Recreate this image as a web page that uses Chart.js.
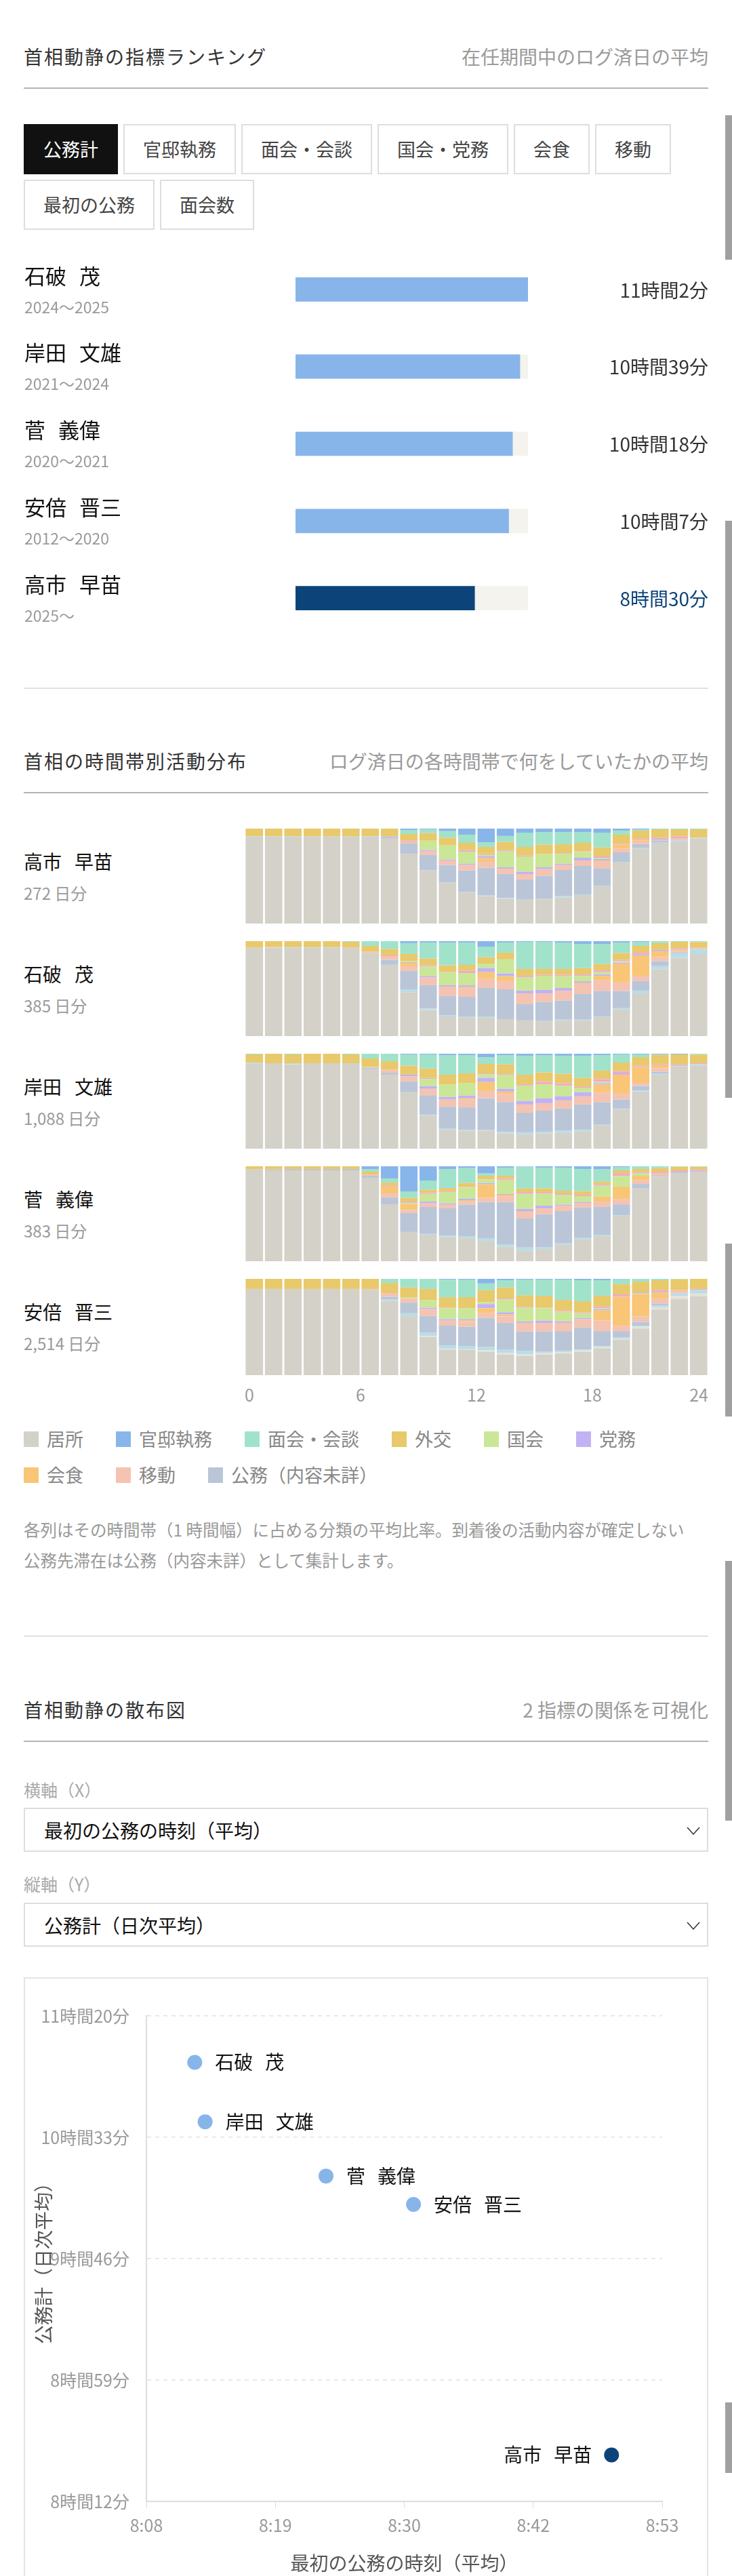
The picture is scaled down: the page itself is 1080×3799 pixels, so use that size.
<!DOCTYPE html>
<html lang="ja">
<head>
<meta charset="utf-8">
<title>首相動静</title>
<script src="https://cdn.jsdelivr.net/npm/chart.js@4.4.1/dist/chart.umd.min.js"></script>
<style>
  html, body { margin: 0; background: #fff; overflow: hidden; }
  body { width: 1080px; position: relative; font-family: "Noto Sans CJK JP", "Noto Sans", sans-serif; color: #222; }
  .page { padding: 37px 35px 0; }
  canvas { display: block; }
  .sec-head { height: 94px; box-sizing: border-box; display: flex; justify-content: space-between; align-items: center; border-bottom: 2px solid #b4b4b4; }
  .sec-head h2 { margin: 0; font-size: 28px; font-weight: 400; letter-spacing: 2px; line-height: 36px; color: #333; }
  .sec-head span { font-size: 28px; line-height: 36px; color: #9a9a9a; }
  .sep { border-top: 2px solid #e3e1da; }
  .tabs { display: flex; flex-wrap: wrap; gap: 8px; margin-top: 52px; }
  .tab { height: 74px; box-sizing: border-box; border: 2px solid #dedede; padding: 0 27px; font-size: 27px; line-height: 70px; color: #444; background: #fff; }
  .tab.active { background: #111; border-color: #111; color: #fff; }
  .act-row { display: flex; align-items: flex-start; margin-bottom: 26px; }
  .act-row:last-child { margin-bottom: 0; }
  .act-name { width: 326px; }
  .act-name .pm { margin-top: 30px; font-size: 28px; line-height: 36px; color: #111; white-space: nowrap; }
  .act-name .pm .gap { display: inline-block; width: 19px; }
  .act-name .days { margin-top: 13px; font-size: 24px; line-height: 32px; color: #9a9a9a; }
  .legend { display: flex; flex-wrap: wrap; column-gap: 48px; row-gap: 17px; margin-top: 18px; }
  .legend-item { display: flex; align-items: center; font-size: 27px; line-height: 36px; color: #888; }
  .legend-item i { display: inline-block; width: 22px; height: 23px; margin-right: 12px; }
  .note { margin: 39.5px 0 0; font-size: 24.5px; line-height: 45px; color: #999; }
  .field-label { font-size: 25px; line-height: 34px; color: #aaa; }
  .select { position: relative; height: 65px; box-sizing: border-box; border: 2px solid #dddddd; padding-left: 28px; display: flex; align-items: center; font-size: 28px; color: #111; }
  .select svg { position: absolute; right: 10px; top: 26px; }
  .scatter-box { margin-top: 45px; border: 2px solid #e6e4dd; }
  .thumb { position: absolute; left: 1070px; width: 10px; background: #a0a0a0; }
</style>
</head>
<body>
<div class="page">
  <div class="sec-head"><h2>首相動静の指標ランキング</h2><span>在任期間中のログ済日の平均</span></div>
  <div class="tabs">
    <div class="tab active">公務計</div>
    <div class="tab">官邸執務</div>
    <div class="tab">面会・会談</div>
    <div class="tab">国会・党務</div>
    <div class="tab">会食</div>
    <div class="tab">移動</div>
    <div class="tab">最初の公務</div>
    <div class="tab">面会数</div>
  </div>
  <canvas id="rankChart" width="1010" height="569" style="margin-top:31px"></canvas>

  <div class="sep" style="margin-top:75px"></div>
  <div class="sec-head" style="margin-top:60px"><h2>首相の時間帯別活動分布</h2><span>ログ済日の各時間帯で何をしていたかの平均</span></div>
  <div id="activityRows" style="margin-top:52px"></div>
  <div class="legend" id="legend"></div>
  <p class="note">各列はその時間帯（1 時間幅）に占める分類の平均比率。到着後の活動内容が確定しない<br>公務先滞在は公務（内容未詳）として集計します。</p>

  <div class="sep" style="margin-top:89.5px"></div>
  <div class="sec-head" style="margin-top:61px"><h2>首相動静の散布図</h2><span>2 指標の関係を可視化</span></div>
  <div class="field-label" style="margin-top:53px">横軸（X）</div>
  <div class="select" style="margin-top:10px">最初の公務の時刻（平均）<svg width="20" height="12"><polyline points="1,1 10,11 19,1" fill="none" stroke="#333" stroke-width="1.5"/></svg></div>
  <div class="field-label" style="margin-top:30px">縦軸（Y）</div>
  <div class="select" style="margin-top:11px">公務計（日次平均）<svg width="20" height="12"><polyline points="1,1 10,11 19,1" fill="none" stroke="#333" stroke-width="1.5"/></svg></div>
  <div class="scatter-box"><canvas id="scatterChart" width="1006" height="885"></canvas></div>
</div>

<div class="thumb" style="top:170px;height:213px"></div>
<div class="thumb" style="top:768px;height:851px"></div>
<div class="thumb" style="top:1834px;height:255px"></div>
<div class="thumb" style="top:2302px;height:383px"></div>
<div class="thumb" style="top:3543px;height:104px"></div>

<script>
// --- DATA ---
const rankNames = ['石破 茂', '岸田 文雄', '菅 義偉', '安倍 晋三', '高市 早苗'];
const rankYears = ['2024〜2025', '2021〜2024', '2020〜2021', '2012〜2020', '2025〜'];
const rankMinutes = [662, 639, 618, 607, 510];           // 公務計（日次平均, 分）
const firstDutyMinutes = [492.2, 493.1, 503.6, 511.2, 528.4]; // 最初の公務の時刻（0時からの分）
const highlightIndex = 4;

const hours = [0, 1, 2, 3, 4, 5, 6, 7, 8, 9, 10, 11, 12, 13, 14, 15, 16, 17, 18, 19, 20, 21, 22, 23];
const hourTicks = [0, 6, 12, 18, 24];

// stack order, bottom to top
const categoryLabels = ['居所', 'その他', '待機', '公務（内容未詳）', '移動', '会食', '党務', '国会', '私的用務', '外交', '面会・会談', '官邸執務'];
const categoryColors = ['#d4d1c9', '#e4e1d9', '#b9dde7', '#bac6d7', '#f5c3b2', '#f8c676', '#c2b2f4', '#c9e797', '#f0abc9', '#e8c96b', '#a1e2cb', '#88b6ea'];
const legendLabels = ['居所', '官邸執務', '面会・会談', '外交', '国会', '党務', '会食', '移動', '公務（内容未詳）'];

const activityNames = ['高市 早苗', '石破 茂', '岸田 文雄', '菅 義偉', '安倍 晋三'];
const activityDays = [272, 385, 1088, 383, 2514];

// percent of each hour, one row per category (same order as categoryLabels)
const takaichiShares = [
  [91.5, 92, 92, 91.7, 91.7, 91.7, 91.5, 90, 73.6, 56, 43.1, 33.1, 28.8, 26, 25, 26, 27.4, 30, 39.3, 64.3, 78.7, 85, 86.8, 89.8],
  [0, 0, 0, 0, 0, 0, 0, 0, 0, 0, 0, 0, 0, 0, 0, 0, 0, 0, 0, 0, 0, 0, 0, 0],
  [0.5, 0, 0, 0, 0, 0, 0.5, 0, 0, 0, 0, 0, 0.7, 0.7, 0.7, 0, 1.4, 0.7, 0.7, 0.7, 0.7, 0.7, 0.5, 0.7],
  [0, 0, 0, 0, 0, 0, 0, 1.5, 10.7, 16.2, 18.6, 22.9, 29.3, 25.5, 20.7, 24.3, 27.6, 30, 17.9, 10, 4.3, 1.9, 1, 0],
  [0, 0, 0, 0, 0, 0, 0, 0, 2.1, 4.3, 4.8, 5.7, 6.2, 5.7, 5.7, 7.1, 5.2, 5.7, 7.1, 3.8, 1.9, 1, 1.7, 0],
  [0, 0, 0, 0, 0, 0, 0, 0, 0, 0, 0, 0, 3.8, 0, 0, 0, 0, 0, 1, 4.3, 1.9, 0, 0, 0],
  [0, 0, 0, 0, 0, 0, 0, 0, 0, 1, 1, 1.4, 1.9, 1.4, 2.4, 1.9, 1.4, 2.9, 1.9, 0, 0, 0.7, 0, 0],
  [0, 0, 0, 0, 0, 0, 0, 0, 0, 9.8, 14.8, 12.6, 1.4, 17.1, 16.2, 13.8, 10.5, 6, 1.4, 0, 0, 0, 0, 0],
  [0, 0, 0, 0, 0, 0, 0, 0.5, 1, 0, 0, 1.7, 1, 1, 1, 0, 0.7, 0.7, 1.4, 1, 1.4, 1, 1.7, 0],
  [8, 8, 8, 8.3, 8.3, 8.3, 8, 8, 6.9, 7.9, 8.1, 7.6, 7.6, 8.6, 9, 10, 9.3, 9, 9.5, 9.5, 9, 9, 7.6, 8.8],
  [0, 0, 0, 0, 0, 0, 0, 0, 4.3, 4, 6.9, 8.6, 5, 6.2, 15, 13.3, 12.9, 11.4, 15.5, 4.3, 1.4, 0.7, 0.7, 0.7],
  [0, 0, 0, 0, 0, 0, 0, 0, 1.4, 1, 2.9, 6.4, 14.3, 7.9, 4.3, 3.6, 3.6, 3.6, 4.3, 2.1, 0.7, 0, 0, 0]
];
const ishibaShares = [
  [93.1, 93.3, 93.1, 93.1, 93.1, 93.1, 86.7, 75.1, 46, 27.5, 20.7, 19.2, 19.3, 17.9, 16.5, 15.7, 16.3, 16.3, 20.1, 28, 45, 70.4, 82.4, 86.4],
  [0, 0, 0, 0, 0, 0, 0, 0, 0, 0, 0, 0, 0, 0, 0, 0, 0, 0, 0, 0, 0, 0, 0, 0],
  [0, 0, 0.5, 0.5, 0.5, 0, 0, 0, 3.3, 1.4, 1, 1, 1.4, 0, 0, 0.7, 1, 1, 0.7, 1.4, 2.9, 3.3, 4.8, 5.2],
  [0, 0, 0, 0, 0, 0, 0.7, 5.2, 19.3, 24.8, 20.5, 21.2, 30, 31.4, 17.1, 19.5, 20, 26.9, 26.9, 18.1, 10, 5.2, 1, 0],
  [0, 0.5, 0, 0, 0, 0, 1.4, 4, 5, 8.1, 10, 8.8, 9.5, 8.6, 11.4, 9, 10.5, 10.7, 11, 9, 5.7, 4.3, 1.4, 1.4],
  [0, 0, 0, 0, 0, 0, 0, 0, 3.6, 0, 0, 1.4, 7.1, 5.2, 0, 0, 0, 1, 4.8, 20, 21.4, 6.2, 1.4, 0],
  [0, 0, 0, 0, 0, 0, 0, 0, 0.7, 1.4, 1.4, 1.9, 4.3, 2.9, 2.9, 3.8, 2.9, 1.9, 1.4, 1, 1, 1.4, 0, 0],
  [0, 0, 0, 0, 0, 0, 0, 0, 1, 10, 13.8, 12.9, 4.8, 14.8, 14.3, 14.8, 12.4, 5.7, 2.4, 1.4, 0, 0, 0, 0],
  [0, 0, 0, 0, 0, 0, 0, 0.7, 0, 1.4, 0.5, 2.4, 0, 0, 1.4, 1, 1.4, 1.4, 1.9, 1.4, 1.9, 0, 1.4, 0],
  [6.9, 6.2, 6.4, 6.4, 6.4, 6.2, 6.2, 6.7, 7.6, 7.1, 6.7, 6.2, 6.7, 7.1, 7.1, 6.2, 6.2, 6.7, 6.7, 7.1, 7.1, 7.1, 6.9, 6],
  [0, 0, 0, 0, 0, 0.7, 5, 8.3, 11.4, 16.9, 24, 23.6, 11.2, 10.7, 28.6, 28.6, 27.9, 25.5, 21.2, 11.2, 4.3, 2.1, 0.7, 1],
  [0, 0, 0, 0, 0, 0, 0, 0, 2.1, 1.4, 1.4, 1.4, 5.7, 1.4, 0.7, 0.7, 1.4, 2.9, 2.9, 1.4, 0.7, 0, 0, 0]
];
const kishidaShares = [
  [89.3, 90, 89, 90, 90, 89.3, 84.3, 77.9, 59.4, 34.8, 19.9, 18.7, 19, 16, 15.1, 16, 16.5, 17.9, 24.4, 41.5, 60.2, 77.8, 86.4, 87.6],
  [0, 0, 0, 0, 0, 0, 0, 0, 0, 0, 0, 0, 0, 0, 0, 0, 0, 0, 0, 0, 0, 0, 0, 0],
  [1, 0, 1, 0, 0, 0.7, 0, 0, 0, 1, 1, 1.2, 1, 1.7, 2.1, 1.9, 2.4, 1.7, 0.7, 0.7, 1, 1, 0.5, 1.4],
  [0, 0, 0, 0, 0, 0, 1, 2.1, 11.4, 20.5, 23.3, 23.6, 33.1, 31.4, 20.7, 22.1, 23.3, 26.9, 23.8, 9.5, 4.8, 2.1, 1, 0],
  [0, 0, 0, 0, 0, 0, 0.7, 3.1, 5.2, 6.7, 7.9, 8.1, 7.6, 8.6, 8.6, 7.9, 8.6, 8.6, 10.5, 6.2, 3.3, 3.6, 0, 0],
  [0, 0, 0, 0, 0, 0, 0, 0, 0, 0, 0, 1.4, 9.5, 2.4, 0, 0, 0, 0, 8.1, 20, 16.7, 3.3, 0.7, 0],
  [0, 0, 0, 0, 0, 0, 0, 0, 1.9, 2.9, 2.4, 2.9, 4.3, 2.9, 3.8, 5.2, 4.3, 4.3, 1.4, 1.4, 0, 0, 0, 0],
  [0, 0, 0, 0, 0, 0, 0, 0, 0, 7.6, 12.9, 12.9, 3.8, 14.8, 16.2, 14.8, 11.4, 4.3, 1.4, 0, 0, 0, 0, 0],
  [0, 0, 0, 0, 0, 0, 0, 0, 0, 1, 0, 0, 1, 1, 1.4, 2.4, 2.4, 1.4, 2.9, 2.4, 1.4, 1, 0.7, 1],
  [9, 10, 9.3, 10, 10, 9.3, 9, 9, 9.5, 10, 10.5, 10.5, 10, 10, 10, 10, 10, 9.5, 9, 9, 9, 10, 10, 9],
  [0.7, 0, 0.7, 0, 0, 0.7, 5, 7.9, 11.9, 14.8, 20.7, 19.3, 7.1, 9.8, 20, 18.3, 19, 23.3, 16.4, 8.6, 2.9, 0.5, 0, 1],
  [0, 0, 0, 0, 0, 0, 0, 0, 0.7, 0.7, 1.4, 1.4, 3.6, 1.4, 2.1, 1.4, 2.1, 2.1, 1.4, 0.7, 0.7, 0.7, 0.7, 0]
];
const sugaShares = [
  [96.7, 95.7, 95.7, 95.7, 95.7, 95.7, 87.9, 60, 30.8, 27.8, 25.3, 24.2, 21.4, 15.3, 11.3, 12.8, 17.1, 22.8, 26.5, 47.8, 76.6, 89, 92.9, 94.2],
  [0, 0, 0, 0, 0, 0, 0, 0, 0, 0, 0, 0, 0, 0, 0, 0, 0, 0, 0, 0, 0, 0, 0, 0],
  [0, 0, 0, 0, 0, 0, 0, 0, 0, 1, 1.4, 1.7, 2.9, 2.6, 3.1, 1.7, 1.7, 1.7, 1.4, 0.7, 0, 0, 0, 0],
  [0, 1, 1.4, 1.4, 1.4, 1.4, 2.1, 7.1, 20, 28.3, 29, 33.6, 38.1, 44.5, 30.7, 35, 34, 32.1, 29.3, 11.4, 4.8, 1, 1.4, 1],
  [0, 0, 0, 0, 0, 0, 1.4, 4.3, 3.1, 3.8, 3.8, 2.9, 4.3, 5.7, 6.2, 5.7, 5.7, 4.8, 5.7, 5.7, 3.8, 2.9, 0, 0],
  [0, 0, 0, 0, 0, 0, 0, 7.1, 6.2, 0, 0, 1.4, 14.3, 1.9, 1, 0.5, 0, 0, 5.2, 12.9, 4.8, 0, 0, 0],
  [0, 0, 0, 0, 0, 0, 0, 0, 0, 1.9, 1.4, 1.9, 1.4, 1, 2.9, 2.9, 1, 1, 0, 0, 0, 0, 0, 0],
  [0, 0, 0, 0, 0, 0, 0, 0, 1.4, 8.1, 11.9, 11.9, 3.8, 14.3, 15.7, 12.9, 10.5, 6.2, 11.4, 11.4, 2.4, 0, 0, 0],
  [0, 0, 0, 0, 0, 0, 0, 1, 1.4, 1.4, 1, 0.5, 0, 1.4, 1.9, 1.4, 1.4, 1.4, 1.4, 2.9, 1.4, 1.4, 1.4, 1.4],
  [3.3, 3.3, 2.9, 2.9, 2.9, 2.9, 2.9, 3.3, 3.8, 2.9, 3.3, 4.3, 3.8, 3.3, 3.8, 3.8, 2.9, 3.8, 2.9, 2.9, 3.3, 3.8, 3.8, 2.9],
  [0, 0, 0, 0, 0, 0, 2.4, 4.3, 6.9, 9.8, 20, 15.7, 2.4, 8.6, 22.9, 21.9, 24.3, 23.3, 12.9, 3.6, 2.9, 1.9, 0.5, 0.5],
  [0, 0, 0, 0, 0, 0, 3.3, 12.9, 26.4, 15, 2.9, 1.9, 7.6, 1.4, 0.5, 1.4, 1.4, 2.9, 3.3, 0.7, 0, 0, 0, 0]
];
const abeShares = [
  [89.5, 89.5, 89.5, 89.5, 89.5, 89.5, 88.5, 77.1, 61.3, 39.6, 26.6, 26.4, 24.3, 21.5, 20.1, 21.4, 22.4, 24.2, 27.8, 37, 48.5, 68.1, 79.3, 81.8],
  [0, 0, 0, 0, 0, 0, 0, 0, 0, 1, 0.5, 0.5, 1.4, 1.4, 1.4, 1.4, 1.4, 1.4, 1.2, 1, 1.9, 2.4, 2.9, 2.9],
  [0, 0, 0, 0, 0, 0, 0, 1.4, 2.9, 3.3, 3.8, 3.3, 3.8, 3.8, 3.8, 1.4, 1.4, 1, 1, 1, 1, 1.9, 2.9, 3.8],
  [0, 0, 0, 0, 0, 0, 0, 2.9, 11, 17.6, 20.5, 20, 30, 27.6, 20, 21.4, 20.5, 22.9, 15.7, 6.7, 3.8, 1.9, 0, 0],
  [0, 0, 0, 0, 0, 0, 1, 3.8, 4.3, 7.1, 5.2, 5.2, 4.8, 6.7, 9, 8.6, 8.6, 8.6, 11, 5.2, 5.7, 5.2, 1.4, 0],
  [0, 0, 0, 0, 0, 0, 0, 0, 0, 0, 0, 1.4, 5.2, 1.9, 0, 0, 0, 0, 10.5, 30.5, 22.9, 6.2, 1, 0],
  [0, 0, 0, 0, 0, 0, 0, 0, 0, 1.4, 1.4, 1.4, 4.3, 2.4, 1.4, 2.4, 1.4, 1.4, 1.4, 0, 0, 1, 0, 0],
  [0, 0, 0, 0, 0, 0, 0, 0, 1, 8.1, 11.4, 11.4, 1.9, 13.3, 14.3, 12.9, 10, 4.8, 1, 0, 1.4, 0, 0, 0],
  [0, 0, 0, 0, 0, 0, 0, 0, 0, 0, 0.5, 0, 0, 1, 1, 0.5, 1, 1, 1.4, 2.4, 1.4, 1.4, 1, 1],
  [10.5, 10.5, 10.5, 10.5, 10.5, 10.5, 10.5, 10.5, 10.5, 11.4, 11, 11.4, 12.4, 11.4, 11.9, 12.4, 11.4, 11.4, 11.4, 10.5, 10.5, 10.5, 11, 10.5],
  [0, 0, 0, 0, 0, 0, 0, 4.3, 9, 10.5, 18.1, 18.3, 7.1, 7.6, 16.4, 16.9, 21.2, 21.9, 16.2, 5.2, 2.9, 1.4, 0.5, 0],
  [0, 0, 0, 0, 0, 0, 0, 0, 0, 0, 1, 0.7, 4.8, 1.4, 0.7, 0.7, 0.7, 1.4, 1.4, 0.5, 0, 0, 0, 0]
];
const activityShares = [takaichiShares, ishibaShares, kishidaShares, sugaShares, abeShares];

// scatter axis bounds (minutes)
const scatterXMin = 488, scatterXMax = 532.8;
const scatterYMin = 492, scatterYMax = 680;

// --- HELPERS ---
const FONT = '"Noto Sans CJK JP", "Noto Sans", sans-serif';
const LIGHT_BLUE = '#87b5e9';
const NAVY = '#0c4479';
Chart.defaults.font.family = FONT;

const fmtDuration = m => `${Math.floor(m / 60)}時間${Math.round(m % 60)}分`;
const fmtClock = m => {
    const t = Math.round(m);
    return `${Math.floor(t / 60)}:${String(t % 60).padStart(2, '0')}`;
};

// family name and given name are drawn with a fixed gap between them
function drawName(ctx, name, x, y, gap, alignRight) {
    const [family, given] = name.split(' ');
    const w1 = ctx.measureText(family).width;
    const total = w1 + gap + ctx.measureText(given).width;
    const left = alignRight ? x - total : x;
    ctx.textAlign = 'left';
    ctx.fillText(family, left, y);
    ctx.fillText(given, left + w1 + gap, y);
}

// --- RANKING ---
const rankLabelsPlugin = {
    id: 'rankLabels',
    afterDatasetsDraw(chart) {
        const { ctx, width } = chart;
        const y = chart.scales.y;
        ctx.save();
        ctx.textBaseline = 'middle';
        rankNames.forEach((name, i) => {
            const cy = y.getPixelForValue(i);
            ctx.fillStyle = '#111';
            ctx.font = `31px ${FONT}`;
            drawName(ctx, name, 1, cy - 20, 19, false);
            ctx.textAlign = 'left';
            ctx.fillStyle = '#9a9a9a';
            ctx.font = `23px ${FONT}`;
            ctx.fillText(rankYears[i], 1, cy + 26);
            ctx.textAlign = 'right';
            ctx.fillStyle = i === highlightIndex ? NAVY : '#333';
            ctx.font = `28px ${FONT}`;
            ctx.fillText(fmtDuration(rankMinutes[i]), width, cy + 1);
        });
        ctx.restore();
    }
};

const rankMax = Math.max(...rankMinutes);
new Chart(document.getElementById('rankChart'), {
    type: 'bar',
    data: {
        labels: rankNames,
        datasets: [
            {
                label: '公務計',
                data: rankMinutes,
                backgroundColor: rankMinutes.map((_, i) => i === highlightIndex ? NAVY : LIGHT_BLUE),
                barThickness: 35,
                order: 0
            },
            {
                label: 'track',
                data: rankMinutes.map(() => rankMax),
                backgroundColor: '#f4f3ee',
                barThickness: 35,
                order: 1
            }
        ]
    },
    options: {
        indexAxis: 'y',
        responsive: false,
        animation: false,
        events: [],
        layout: { padding: { left: 401, right: 266 } },
        datasets: { bar: { grouped: false } },
        plugins: { legend: { display: false }, tooltip: { enabled: false } },
        scales: {
            x: { display: false, min: 0, max: rankMax },
            y: { display: false }
        }
    },
    plugins: [rankLabelsPlugin]
});

// --- ACTIVITY DISTRIBUTION ---
const rowsEl = document.getElementById('activityRows');
activityNames.forEach((name, p) => {
    const isLast = p === activityNames.length - 1;
    const row = document.createElement('div');
    row.className = 'act-row';
    row.innerHTML = `
        <div class="act-name">
            <div class="pm">${name.split(' ').join('<span class="gap"></span>')}</div>
            <div class="days">${activityDays[p].toLocaleString('en-US')} 日分</div>
        </div>
        <canvas width="684" height="${isLast ? 200 : 140}"></canvas>`;
    rowsEl.appendChild(row);

    const shares = activityShares[p];
    new Chart(row.querySelector('canvas'), {
        type: 'bar',
        data: {
            datasets: categoryLabels.map((label, k) => ({
                label,
                data: hours.map((h, i) => ({ x: h + 0.5, y: shares[k][i] })),
                backgroundColor: categoryColors[k],
                borderWidth: 0,
                categoryPercentage: 1,
                barPercentage: 0.9
            }))
        },
        options: {
            responsive: false,
            animation: false,
            events: [],
            plugins: { legend: { display: false }, tooltip: { enabled: false } },
            scales: {
                x: {
                    type: 'linear',
                    stacked: true,
                    offset: false,
                    min: hourTicks[0],
                    max: hourTicks[hourTicks.length - 1],
                    display: isLast,
                    grid: { display: false, drawTicks: false },
                    border: { display: false },
                    afterBuildTicks: scale => { scale.ticks = hourTicks.map(v => ({ value: v })); },
                    afterFit: scale => { scale.paddingLeft = 0; scale.paddingRight = 0; },
                    ticks: { align: 'inner', padding: 14, color: '#999', font: { size: 25 } }
                },
                y: { stacked: true, min: 0, max: 100, display: false }
            }
        }
    });
});

const legendEl = document.getElementById('legend');
legendLabels.forEach(label => {
    const item = document.createElement('div');
    item.className = 'legend-item';
    item.innerHTML = `<i style="background:${categoryColors[categoryLabels.indexOf(label)]}"></i>${label}`;
    legendEl.appendChild(item);
});

// --- SCATTER ---
const pointLabelsPlugin = {
    id: 'pointLabels',
    afterDatasetsDraw(chart) {
        const { ctx } = chart;
        const meta = chart.getDatasetMeta(0);
        ctx.save();
        ctx.font = `28px ${FONT}`;
        ctx.fillStyle = '#111';
        ctx.textBaseline = 'middle';
        meta.data.forEach((pt, i) => {
            if (i === highlightIndex) {
                drawName(ctx, rankNames[i], pt.x - 29, pt.y, 18, true);
            } else {
                drawName(ctx, rankNames[i], pt.x + 30, pt.y, 18, false);
            }
        });
        ctx.restore();
    }
};

new Chart(document.getElementById('scatterChart'), {
    type: 'scatter',
    data: {
        datasets: [{
            label: '首相',
            data: rankNames.map((_, i) => ({ x: firstDutyMinutes[i], y: rankMinutes[i] })),
            backgroundColor: rankNames.map((_, i) => i === highlightIndex ? NAVY : LIGHT_BLUE),
            borderWidth: 0,
            pointRadius: 11
        }]
    },
    options: {
        responsive: false,
        animation: false,
        events: [],
        layout: { padding: { top: 55, right: 66, bottom: 2, left: 0 } },
        plugins: { legend: { display: false }, tooltip: { enabled: false } },
        scales: {
            x: {
                min: scatterXMin,
                max: scatterXMax,
                afterFit: scale => { scale.height = 112; },
                grid: { drawOnChartArea: false, drawTicks: true, tickLength: 10, color: '#dddddd' },
                border: { color: '#dddddd', width: 2 },
                ticks: { count: 5, padding: 10, color: '#999', font: { size: 25 }, callback: v => fmtClock(v) },
                title: { display: true, text: '最初の公務の時刻（平均）', color: '#555', font: { size: 28 }, padding: { top: 4, bottom: 4 } }
            },
            y: {
                min: scatterYMin,
                max: scatterYMax,
                afterFit: scale => { scale.width = 179; },
                grid: { drawTicks: false, color: '#e2e2e2', lineWidth: 1.5 },
                border: { color: '#dddddd', width: 2, dash: [6, 6] },
                ticks: { count: 5, padding: 25, color: '#999', font: { size: 25 }, callback: v => fmtDuration(v) },
                title: { display: true, text: '公務計（日次平均）', color: '#555', font: { size: 28 }, padding: { top: 11, bottom: 4 } }
            }
        }
    },
    plugins: [pointLabelsPlugin]
});
</script>
</body>
</html>
